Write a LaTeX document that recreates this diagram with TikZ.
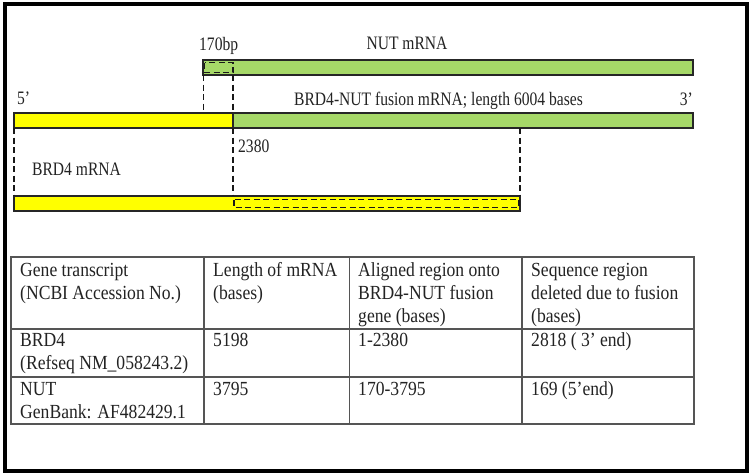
\documentclass[tikz,border=0pt]{standalone}
\usepackage{fontspec}
\setmainfont{Liberation Serif}
\newfontfamily\labfont[FakeStretch=0.82]{Liberation Serif}
\newfontfamily\tabfont[FakeStretch=0.88]{Liberation Serif}
\definecolor{barGreen}{RGB}{166,216,104}
\definecolor{barYellow}{RGB}{255,255,0}
\definecolor{tabLine}{RGB}{85,85,85}
\definecolor{txt}{RGB}{35,35,35}
\begin{document}
\begin{tikzpicture}[x=1pt,y=-1pt,
  bar/.style={draw=black!85,line width=1.4pt},
  dashline/.style={draw=black!90,line width=1.4pt,dash pattern=on 6pt off 3.5pt},
  lab/.style={font=\labfont\fontsize{19}{23}\selectfont,inner sep=0pt,anchor=base west,text=txt},
  cell/.style={font=\tabfont\fontsize{20}{23}\selectfont,inner sep=0pt,anchor=base west,text=txt},
  tabrule/.style={draw=tabLine,line width=1.3pt}]
\useasboundingbox (0,0) rectangle (751,475);
\fill[white] (0,0) rectangle (751,475);
\draw[line width=4pt] (5,4) rectangle (747,471);

% NUT mRNA bar
\fill[barGreen] (203,60) rectangle (693,75);
\draw[bar] (203,60) rectangle (693,75);
\draw[dashline] (204.5,62.5) rectangle (233,72.5);

% fusion bar
\fill[barYellow] (14,113) rectangle (233,128);
\fill[barGreen] (233,113) rectangle (693,128);
\draw[bar] (14,113) rectangle (693,128);
\draw[bar] (233,113) -- (233,128);

% BRD4 mRNA bar
\fill[barYellow] (14,196) rectangle (520,211);
\draw[bar] (14,196) rectangle (520,211);
\draw[dashline] (234,199.5) rectangle (519,207.5);

% dashed guides
\draw[dashline] (203.5,75) -- (203.5,113);
\draw[dashline] (233,75) -- (233,113);
\draw[dashline] (233,128) -- (233,196);
\draw[dashline] (14,128) -- (14,196);
\draw[dashline] (520,128) -- (520,196);

% labels
\node[lab] (l170) at (199,50) {170bp};
\node[lab,anchor=base] (lnut) at (407,49) {NUT mRNA};
\node[lab] (l5) at (17,104) {5’};
\node[lab,anchor=base] (lfus) at (438.5,105) {BRD4-NUT fusion mRNA; length 6004 bases};
\node[lab,anchor=base east] (l3) at (693,105) {3’};
\node[lab] (l2380) at (238,152) {2380};
\node[lab] (lbrd) at (32,175) {BRD4 mRNA};

% table
\draw[tabrule] (11,257) rectangle (694,424);
\draw[tabrule] (204,257) -- (204,424);
\draw[tabrule] (349.5,257) -- (349.5,424);
\draw[tabrule] (522,257) -- (522,424);
\draw[tabrule] (11,329) -- (694,329);
\draw[tabrule] (11,377) -- (694,377);

\node[cell] (h1a) at (20,276.5) {Gene transcript};
\node[cell] (h1b) at (20,299.5) {(NCBI Accession No.)};
\node[cell] (h2a) at (213,276.5) {Length of mRNA};
\node[cell] (h2b) at (213,299.5) {(bases)};
\node[cell] (h3a) at (358,276.5) {Aligned region onto};
\node[cell] (h3b) at (358,299.5) {BRD4-NUT fusion};
\node[cell] (h3c) at (358,322.5) {gene (bases)};
\node[cell] (h4a) at (531,276.5) {Sequence region};
\node[cell] (h4b) at (531,299.5) {deleted due to fusion};
\node[cell] (h4c) at (531,322.5) {(bases)};

\node[cell] (r1a) at (20,346.5) {BRD4};
\node[cell] (r1b) at (20,369.5) {(Refseq NM\_058243.2)};
\node[cell] (r1c) at (213,346.5) {5198};
\node[cell] (r1d) at (358,346.5) {1-2380};
\node[cell] (r1e) at (531,346.5) {2818 ( 3’ end)};

\node[cell] (r2a) at (20,395.5) {NUT};
\node[cell] (r2b) at (20,418.5) {GenBank: AF482429.1};
\node[cell] (r2c) at (213,395.5) {3795};
\node[cell] (r2d) at (358,395.5) {170-3795};
\node[cell] (r2e) at (531,395.5) {169 (5’end)};
\end{tikzpicture}
\end{document}
